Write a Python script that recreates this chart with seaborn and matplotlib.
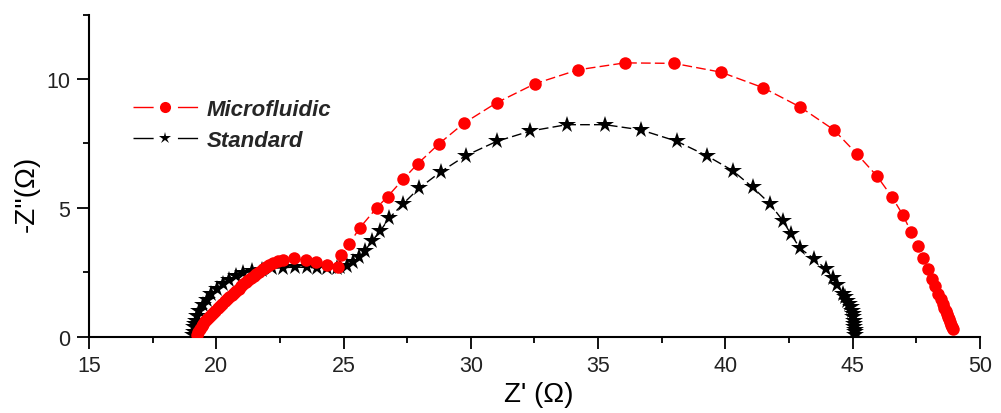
import matplotlib
matplotlib.use("Agg")
import matplotlib.pyplot as plt
import seaborn as sns
from matplotlib.ticker import MultipleLocator
from matplotlib.font_manager import FontProperties
from matplotlib.lines import Line2D

# Nyquist data: real part Z' (ohm) and negative imaginary part -Z'' (ohm)
micro_zre = [19.25, 19.29, 19.35, 19.42, 19.49, 19.56, 19.62, 19.70, 19.78, 19.87,
             19.96, 20.06, 20.15, 20.24, 20.33, 20.42, 20.51, 20.60, 20.70, 20.79,
             20.88, 20.97, 21.06, 21.16, 21.26, 21.37, 21.48, 21.58, 21.69, 21.82,
             21.95, 22.09, 22.24, 22.43, 22.63, 23.05, 23.51, 23.92, 24.33, 24.77,
             24.89, 25.22, 25.64, 26.30, 26.73, 27.34, 27.91, 28.75, 29.73, 31.01,
             32.52, 34.21, 36.05, 37.98, 39.82, 41.47, 42.93, 44.26, 45.16, 45.95,
             46.54, 46.97, 47.29, 47.56, 47.76, 47.95, 48.11, 48.23, 48.35, 48.45,
             48.54, 48.60, 48.66, 48.70, 48.74, 48.78, 48.82, 48.86, 48.90, 48.94]
micro_zim = [0.05, 0.18, 0.30, 0.40, 0.50, 0.60, 0.68, 0.76, 0.84, 0.93,
             1.01, 1.10, 1.19, 1.28, 1.37, 1.45, 1.54, 1.62, 1.71, 1.78,
             1.86, 1.95, 2.04, 2.12, 2.21, 2.29, 2.37, 2.45, 2.53, 2.62,
             2.70, 2.78, 2.86, 2.93, 2.99, 3.04, 2.96, 2.91, 2.79, 2.72,
             3.17, 3.60, 4.23, 5.00, 5.44, 6.11, 6.71, 7.49, 8.29, 9.08,
             9.82, 10.36, 10.63, 10.61, 10.27, 9.67, 8.92, 8.03, 7.10, 6.24,
             5.43, 4.73, 4.07, 3.53, 3.06, 2.63, 2.24, 1.97, 1.66, 1.45,
             1.27, 1.13, 1.00, 0.88, 0.77, 0.67, 0.57, 0.47, 0.38, 0.30]

std_zre = [19.10, 19.12, 19.14, 19.16, 19.19, 19.25, 19.34, 19.46, 19.62, 19.81,
           20.01, 20.25, 20.51, 20.77, 21.06, 21.39, 21.78, 22.17, 22.63, 23.09,
           23.55, 23.94, 24.33, 24.73, 24.86, 25.12, 25.38, 25.62, 25.84, 26.13,
           26.43, 26.80, 27.34, 27.96, 28.83, 29.80, 31.01, 32.32, 33.76, 35.27,
           36.67, 38.08, 39.26, 40.28, 41.07, 41.75, 42.25, 42.57, 42.93, 43.49,
           43.94, 44.21, 44.39, 44.63, 44.70, 44.78, 44.85, 44.92, 44.96, 45.00,
           45.03, 45.05, 45.06, 45.07, 45.08, 45.09, 45.09]
std_zim = [0.05, 0.20, 0.36, 0.49, 0.62, 0.82, 1.01, 1.23, 1.44, 1.66,
           1.85, 2.05, 2.21, 2.35, 2.46, 2.54, 2.60, 2.65, 2.68, 2.70,
           2.69, 2.67, 2.66, 2.66, 2.70, 2.76, 2.89, 3.08, 3.34, 3.73,
           4.09, 4.61, 5.16, 5.76, 6.41, 7.03, 7.58, 7.98, 8.23, 8.23,
           8.03, 7.59, 7.03, 6.45, 5.80, 5.16, 4.51, 3.99, 3.43, 3.02,
           2.63, 2.27, 2.01, 1.66, 1.53, 1.40, 1.27, 1.14, 1.01, 0.88,
           0.75, 0.62, 0.50, 0.37, 0.27, 0.18, 0.08]

series_labels = ["Microfluidic", "Standard"]
series_colors = ["#ff0000", "black"]
series_markers = ["o", "*"]
x_ticks = [15, 20, 25, 30, 35, 40, 45, 50]
y_ticks = [0, 5, 10]

sns.set_style("ticks")
plt.rcParams["font.family"] = ["Liberation Sans", "DejaVu Sans"]

fig = plt.figure(figsize=(10.01, 4.14), dpi=100)
ax = fig.add_axes([0.0889, 0.1843, 0.8901, 0.7778])

dash = (0, (7, 3))
sns.lineplot(x=std_zre, y=std_zim, sort=False, estimator=None, ax=ax,
             color=series_colors[1], linestyle=dash, linewidth=1.0,
             marker=series_markers[1], markersize=13, markeredgewidth=0,
             legend=False, zorder=2)
sns.lineplot(x=micro_zre, y=micro_zim, sort=False, estimator=None, ax=ax,
             color=series_colors[0], linestyle=dash, linewidth=1.0,
             marker=series_markers[0], markersize=9, markeredgewidth=0,
             legend=False, zorder=3)

ax.set_xlim(15, 50)
ax.set_ylim(0, 12.5)
ax.set_xticks(x_ticks)
ax.set_yticks(y_ticks)
ax.xaxis.set_minor_locator(MultipleLocator(2.5))
ax.yaxis.set_minor_locator(MultipleLocator(2.5))

sns.despine(ax=ax)
for side in ("left", "bottom"):
    ax.spines[side].set_linewidth(1.5)
    ax.spines[side].set_color("black")

ax.tick_params(which="major", direction="out", length=8.5, width=1.3,
               labelsize=15.5, colors="black", pad=5)
ax.tick_params(which="minor", direction="out", length=4.5, width=1.3,
               colors="black")
for lab in ax.get_xticklabels() + ax.get_yticklabels():
    lab.set_color("#222222")

ax.set_xlabel("Z' (Ω)", fontsize=20, color="black")
ax.set_ylabel("-Z''(Ω)", fontsize=20, color="black")
ax.xaxis.label.set_va("center")
ax.yaxis.label.set_va("center")
ax.xaxis.set_label_coords(0.5052, -0.178)
ax.yaxis.set_label_coords(-0.0696, 0.446)

# legend keys: a short segment on each side of the marker
legend_sizes = [8, 9]
handles = [Line2D([], [], color=c, marker=m, markersize=s, markeredgewidth=0,
                  linewidth=1.0, linestyle=(0, (14.5, 17.5)))
           for c, m, s in zip(series_colors, series_markers, legend_sizes)]
ax.legend(handles, series_labels,
          loc="center left", bbox_to_anchor=(0.049, 0.657), frameon=False,
          prop=FontProperties(family="Liberation Sans", weight="bold",
                              style="italic", size=16),
          handlelength=2.95, handletextpad=0.4, labelspacing=0.45,
          borderpad=0, borderaxespad=0)

ax.set_facecolor("white")
fig.patch.set_facecolor("white")
fig.savefig("out.png", dpi=100, facecolor="white")
